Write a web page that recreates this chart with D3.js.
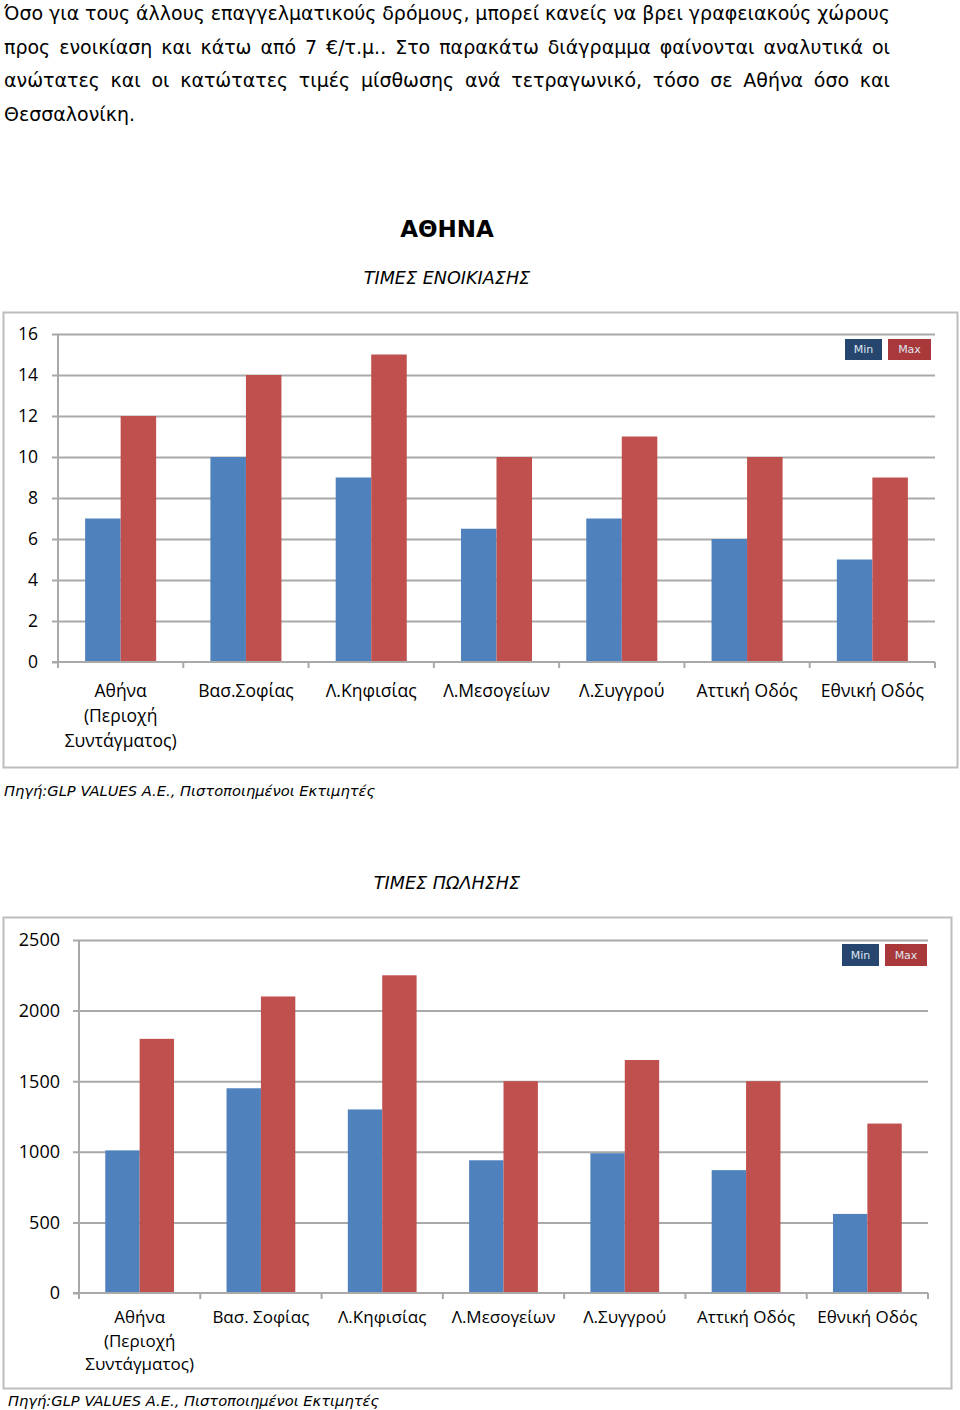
<!DOCTYPE html>
<html><head><meta charset="utf-8">
<script src="https://cdn.jsdelivr.net/npm/d3@7"></script>
<style>body{margin:0;background:#fff} svg{display:block}</style>
</head><body><svg id="c" width="960" height="1410"></svg>
<script>
// ---------- data ----------
const introLines = [
  "Όσο για τους άλλους επαγγελματικούς δρόμους, μπορεί κανείς να βρει γραφειακούς χώρους",
  "προς ενοικίαση και κάτω από 7 €/τ.μ.. Στο παρακάτω διάγραμμα φαίνονται αναλυτικά οι",
  "ανώτατες και οι κατώτατες τιμές μίσθωσης ανά τετραγωνικό, τόσο σε Αθήνα όσο και",
  "Θεσσαλονίκη."
];
const mainTitle = "ΑΘΗΝΑ";
const rentTitle = "ΤΙΜΕΣ ΕΝΟΙΚΙΑΣΗΣ";
const saleTitle = "ΤΙΜΕΣ ΠΩΛΗΣΗΣ";
const sourceText = "Πηγή:GLP VALUES A.E., Πιστοποιημένοι Εκτιμητές";
const seriesNames = ["Min", "Max"];

const rentCategories = ["Αθήνα\n(Περιοχή\nΣυντάγματος)", "Βασ.Σοφίας", "Λ.Κηφισίας", "Λ.Μεσογείων", "Λ.Συγγρού", "Αττική Οδός", "Εθνική Οδός"];
const rentMin = [7, 10, 9, 6.5, 7, 6, 5];
const rentMax = [12, 14, 15, 10, 11, 10, 9];
const rentTicks = [0, 2, 4, 6, 8, 10, 12, 14, 16];

const saleCategories = ["Αθήνα\n(Περιοχή\nΣυντάγματος)", "Βασ. Σοφίας", "Λ.Κηφισίας", "Λ.Μεσογείων", "Λ.Συγγρού", "Αττική Οδός", "Εθνική Οδός"];
const saleMin = [1010, 1450, 1300, 940, 990, 870, 560];
const saleMax = [1800, 2100, 2250, 1500, 1650, 1500, 1200];
const saleTicks = [0, 500, 1000, 1500, 2000, 2500];

// ---------- styles ----------
const barColors = ["#4f81bd", "#c0504d"];
const legendColors = ["#27466f", "#a8383a"];
const gridColor = "#a9a9a9";
const txtFont = "'DejaVu Sans', Verdana, sans-serif";
const axFont = "'Open Sans', 'Noto Sans', sans-serif";

const svg = d3.select("#c");

// ---------- intro paragraph (justified) ----------
(function () {
  const left = 4, right = 890, base = 20, lh = 33.5, fs = 19;
  introLines.forEach((line, li) => {
    const words = line.split(" ");
    const g = svg.append("g");
    const nodes = words.map(w => g.append("text")
      .attr("font-family", txtFont).attr("font-size", fs).attr("fill", "#000")
      .attr("y", base + li * lh).text(w));
    const widths = nodes.map(n => n.node().getComputedTextLength());
    const total = d3.sum(widths);
    const last = li === introLines.length - 1;
    const gap = (!last && words.length > 1) ? (right - left - total) / (words.length - 1) : fs * 0.32;
    let x = left;
    nodes.forEach((n, i) => { n.attr("x", x); x += widths[i] + gap; });
  });
})();

// ---------- titles ----------
svg.append("text").attr("x", 447).attr("y", 237).attr("text-anchor", "middle")
  .attr("font-family", txtFont).attr("font-weight", "bold").attr("font-size", 23).text(mainTitle);
svg.append("text").attr("x", 447).attr("y", 284).attr("text-anchor", "middle")
  .attr("font-family", txtFont).attr("font-style", "italic").attr("font-size", 17.6).text(rentTitle);
svg.append("text").attr("x", 447).attr("y", 889).attr("text-anchor", "middle")
  .attr("font-family", txtFont).attr("font-style", "italic").attr("font-size", 17.6).text(saleTitle);
svg.append("text").attr("x", 4).attr("y", 796)
  .attr("font-family", txtFont).attr("font-style", "italic").attr("font-size", 14.7).text(sourceText);
svg.append("text").attr("x", 8).attr("y", 1406)
  .attr("font-family", txtFont).attr("font-style", "italic").attr("font-size", 14.7).text(sourceText);

// ---------- chart function ----------
function drawChart(cfg) {
  const g = svg.append("g");
  // outer frame
  g.append("rect").attr("x", cfg.box[0]).attr("y", cfg.box[1])
    .attr("width", cfg.box[2] - cfg.box[0]).attr("height", cfg.box[3] - cfg.box[1])
    .attr("fill", "#fff").attr("stroke", "#bdbdbd").attr("stroke-width", 2);

  const y = d3.scaleLinear().domain(cfg.domain).range([cfg.bottom, cfg.top]);
  const x = d3.scaleBand().domain(cfg.categories).range([cfg.left, cfg.right])
    .paddingInner(0.433).paddingOuter(0.2165);
  const xs = d3.scaleBand().domain(seriesNames).range([0, x.bandwidth()]);

  // gridlines + y ticks
  const ya = d3.axisLeft(y).tickValues(cfg.ticks).tickSize(-(cfg.right - cfg.left)).tickPadding(0).tickFormat("");
  const gy = g.append("g").attr("transform", `translate(${cfg.left},0)`).call(ya);
  gy.select(".domain").remove();
  gy.selectAll(".tick line").attr("stroke", gridColor).attr("stroke-width", 2)
    .attr("x1", -6);
  gy.selectAll(".tick").filter(d => d === 0).select("line").attr("x2", 0);
  // tick labels
  g.selectAll(".ylab").data(cfg.ticks).join("text")
    .attr("x", cfg.ylabX).attr("y", d => y(d)).attr("dy", "0.36em")
    .attr("text-anchor", "end").attr("font-family", axFont).attr("font-size", cfg.yfs)
    .attr("fill", "#000").text(d => d);

  // bars
  const series = [cfg.min, cfg.max];
  cfg.categories.forEach((c, i) => {
    series.forEach((vals, s) => {
      g.append("rect")
        .attr("x", x(c) + xs(seriesNames[s]))
        .attr("y", y(vals[i]))
        .attr("width", xs.bandwidth())
        .attr("height", y(0) - y(vals[i]))
        .attr("fill", barColors[s]);
    });
  });

  // axes lines
  g.append("line").attr("x1", cfg.left).attr("x2", cfg.left).attr("y1", y(cfg.domain[1])).attr("y2", y(0))
    .attr("stroke", gridColor).attr("stroke-width", 2);
  g.append("line").attr("x1", cfg.left - 6).attr("x2", cfg.right).attr("y1", y(0)).attr("y2", y(0))
    .attr("stroke", gridColor).attr("stroke-width", 2);
  // category boundary ticks
  d3.range(cfg.categories.length + 1).forEach(i => {
    const xp = cfg.left + i * x.step();
    g.append("line").attr("x1", xp).attr("x2", xp).attr("y1", y(0)).attr("y2", y(0) + 6)
      .attr("stroke", gridColor).attr("stroke-width", 2);
  });

  // category labels
  cfg.categories.forEach(c => {
    const t = g.append("text").attr("text-anchor", "middle")
      .attr("font-family", axFont).attr("font-size", cfg.xfs).attr("fill", "#000");
    c.split("\n").forEach((ln, k) => {
      t.append("tspan").attr("x", x(c) + x.bandwidth() / 2)
        .attr("y", cfg.xlabY + k * cfg.xlh).text(ln);
    });
  });

  // legend
  cfg.legend.forEach((L, s) => {
    g.append("rect").attr("x", L[0]).attr("y", L[1]).attr("width", L[2]).attr("height", L[3])
      .attr("fill", legendColors[s]);
    g.append("text").attr("x", L[0] + L[2] / 2).attr("y", L[1] + L[3] / 2).attr("dy", "0.36em")
      .attr("text-anchor", "middle").attr("font-family", txtFont).attr("font-size", 11)
      .attr("fill", "#dfe6ef").text(seriesNames[s]);
  });
}

drawChart({
  box: [3.5, 312.5, 957.5, 767.5],
  left: 58, right: 935, top: 334, bottom: 662,
  domain: [0, 16], ticks: rentTicks,
  categories: rentCategories, min: rentMin, max: rentMax,
  ylabX: 38, yfs: 17.5, xfs: 17.5, xlabY: 697, xlh: 25,
  legend: [[845, 339, 37, 21], [888, 339, 43, 21]]
});

drawChart({
  box: [3.5, 917.5, 951.5, 1388.5],
  left: 79, right: 928, top: 940, bottom: 1293,
  domain: [0, 2500], ticks: saleTicks,
  categories: saleCategories, min: saleMin, max: saleMax,
  ylabX: 60, yfs: 18, xfs: 17, xlabY: 1323, xlh: 23.5,
  legend: [[842, 944, 37, 22], [885, 944, 42, 22]]
});
</script>
</body></html>
